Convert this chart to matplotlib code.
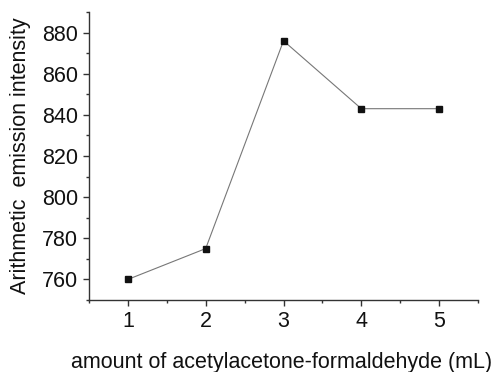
import matplotlib.pyplot as plt

plt.rcParams['font.family'] = ['Liberation Sans', 'DejaVu Sans']

amount = [1, 2, 3, 4, 5]
intensity = [760, 775, 876, 843, 843]

fig = plt.figure(figsize=(5, 3.72), dpi=100)
ax = fig.add_axes([89 / 500, 1 - 300 / 372, (478 - 89) / 500, (300 - 12) / 372])

ax.plot(amount, intensity, color='#777777', lw=0.8, zorder=1)
ax.plot(amount, intensity, ls='none', marker='s', ms=5, color='#111111', zorder=2)

ax.set_xlim(0.5, 5.5)
ax.set_ylim(750, 890)
ax.set_xticks([1, 2, 3, 4, 5])
ax.set_xticks([0.5, 1.5, 2.5, 3.5, 4.5, 5.5], minor=True)
ax.set_yticks([760, 780, 800, 820, 840, 860, 880])
ax.set_yticks([750, 770, 790, 810, 830, 850, 870, 890], minor=True)

for s in ['top', 'right']:
    ax.spines[s].set_visible(False)
for s in ['left', 'bottom']:
    ax.spines[s].set_color('#333333')
    ax.spines[s].set_linewidth(1.0)

ax.tick_params(which='major', direction='out', length=4, width=1, colors='#333333',
               labelsize=15.5, labelcolor='#111111')
ax.tick_params(which='minor', direction='out', length=2.5, width=1, colors='#333333')
ax.tick_params(axis='x', pad=4)
ax.tick_params(axis='y', pad=4)

ax.set_xlabel('amount of acetylacetone-formaldehyde (mL)', fontsize=15.5, labelpad=14, color='#111111')
ax.set_ylabel('Arithmetic  emission intensity', fontsize=15.5, labelpad=8, color='#111111')
ax.xaxis.label.set_x(0.495)

fig.savefig('out.png', dpi=100)
